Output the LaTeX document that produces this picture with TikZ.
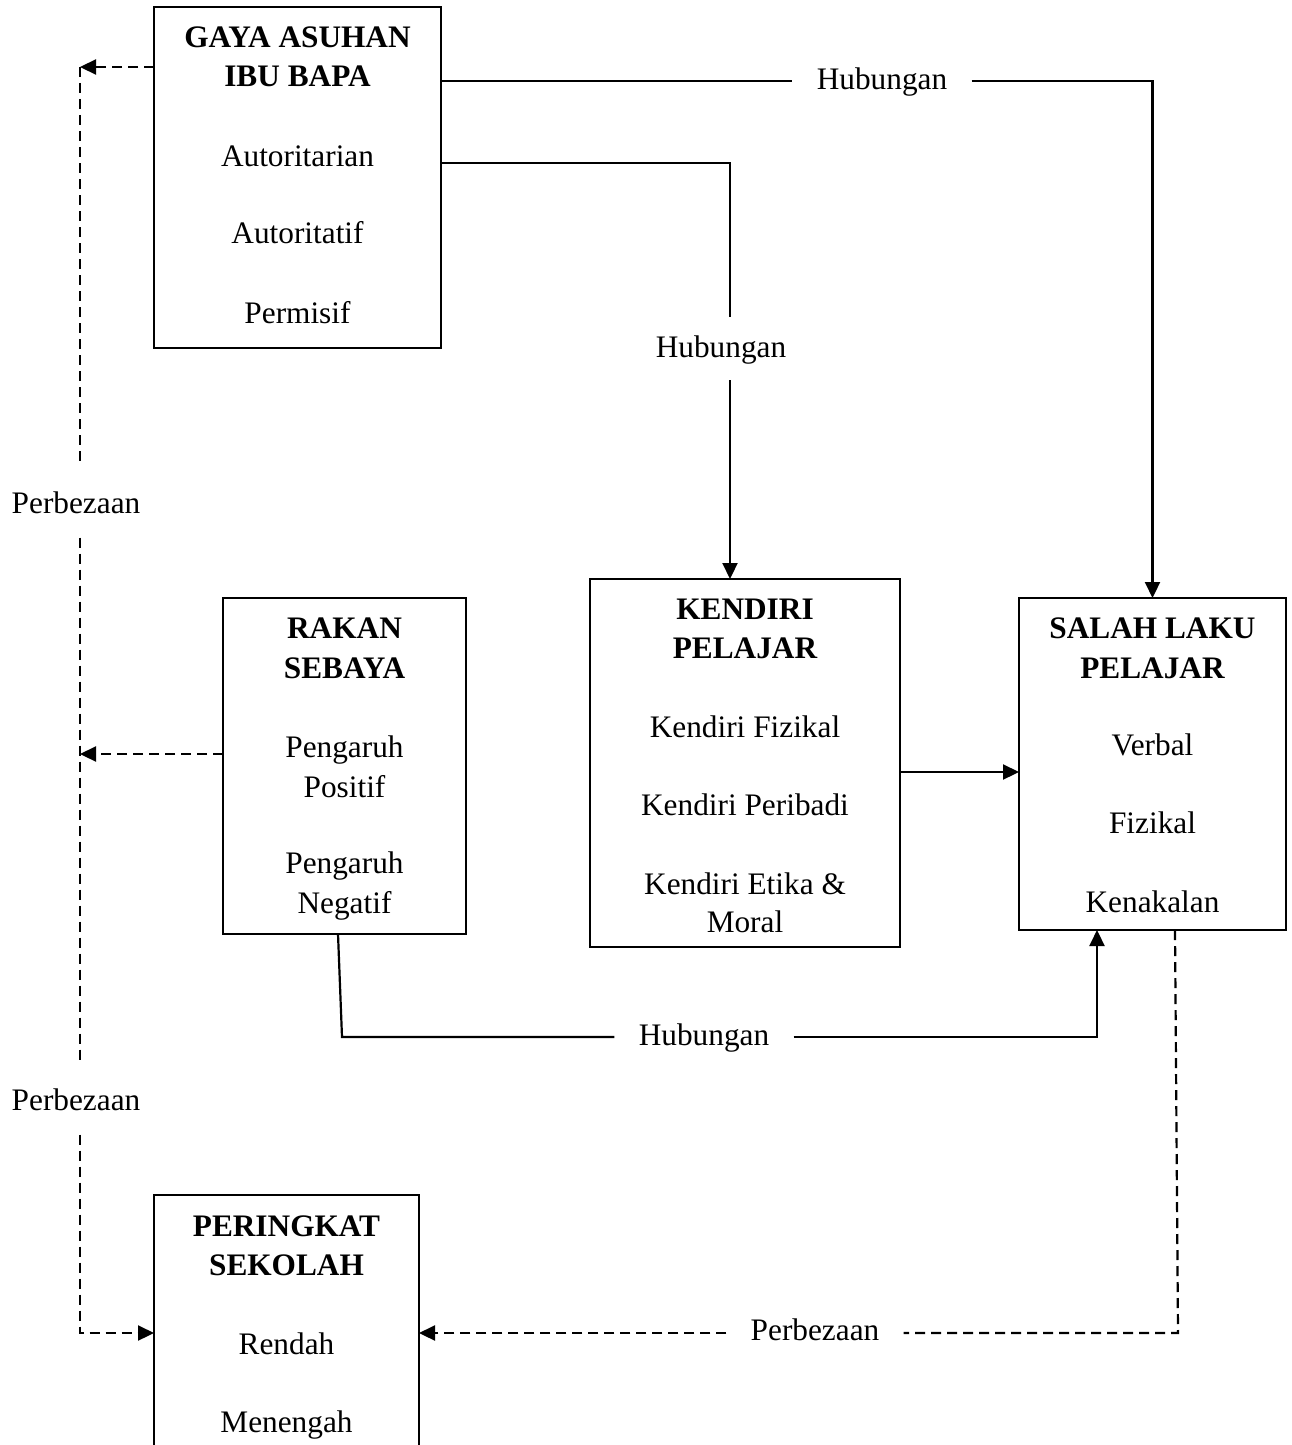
\documentclass[tikz,border=0pt]{standalone}
\usepackage{fontspec}
\setmainfont{Liberation Serif}
\usetikzlibrary{arrows.meta,calc}
\begin{document}
\begin{tikzpicture}[x=0.5pt,y=-0.5pt,
  txt/.style={font=\fontsize{15.65pt}{20pt}\selectfont, inner sep=0pt, anchor=base},
  ttl/.style={txt, font=\fontsize{15.65pt}{20pt}\selectfont\bfseries},
  box/.style={draw, line width=1.1pt, inner sep=0pt, outer sep=0pt, anchor=north west},
  conn/.style={line width=1.1pt},
  dsh/.style={conn, dash pattern=on 5pt off 3pt},
  arr/.style={-{Triangle[length=8pt,width=7.5pt]}},
  gap/.style={txt, inner xsep=12pt, inner ysep=12pt}
]
\useasboundingbox (0,0) rectangle (1291,1445);

% ---- boxes ----
\node[box, minimum width=143.5pt, minimum height=170.5pt] (gaya) at (154,7) {};
\node[box, minimum width=121.5pt, minimum height=168pt] (rakan) at (223,598) {};
\node[box, minimum width=155pt, minimum height=184pt] (kendiri) at (590,579) {};
\node[box, minimum width=133.5pt, minimum height=166pt] (salah) at (1019,598) {};
\node[box, draw=none, minimum width=132.5pt, minimum height=125pt] (peringkat) at (154,1195) {};
\draw[line width=1.1pt] (peringkat.south west) -- (peringkat.north west)
  -- (peringkat.north east) -- (peringkat.south east);

% ---- box contents ----
\node[ttl] (gaya-t1) at (297.5,48) {GAYA ASUHAN};
\node[ttl] (gaya-t2) at (297.5,87) {IBU BAPA};
\node[txt] (gaya-a) at (297.5,166) {Autoritarian};
\node[txt] (gaya-b) at (297.5,243) {Autoritatif};
\node[txt] (gaya-c) at (297.5,323) {Permisif};

\node[ttl] (rakan-t1) at (344.5,638) {RAKAN};
\node[ttl] (rakan-t2) at (344.5,678) {SEBAYA};
\node[txt] (rakan-a1) at (344.5,757) {Pengaruh};
\node[txt] (rakan-a2) at (344.5,797) {Positif};
\node[txt] (rakan-b1) at (344.5,873) {Pengaruh};
\node[txt] (rakan-b2) at (344.5,913) {Negatif};

\node[ttl] (kendiri-t1) at (745,619) {KENDIRI};
\node[ttl] (kendiri-t2) at (745,658) {PELAJAR};
\node[txt] (kendiri-a) at (745,737) {Kendiri Fizikal};
\node[txt] (kendiri-b) at (745,815) {Kendiri Peribadi};
\node[txt] (kendiri-c1) at (745,894) {Kendiri Etika \&};
\node[txt] (kendiri-c2) at (745,932) {Moral};

\node[ttl] (salah-t1) at (1152.5,638) {SALAH LAKU};
\node[ttl] (salah-t2) at (1152.5,678) {PELAJAR};
\node[txt] (salah-a) at (1152.5,755) {Verbal};
\node[txt] (salah-b) at (1152.5,833) {Fizikal};
\node[txt] (salah-c) at (1152.5,912) {Kenakalan};

\node[ttl] (peringkat-t1) at (286.5,1236) {PERINGKAT};
\node[ttl] (peringkat-t2) at (286.5,1275) {SEKOLAH};
\node[txt] (peringkat-a) at (286.5,1354) {Rendah};
\node[txt] (peringkat-b) at (286.5,1432) {Menengah};

% ---- connector labels ----
\node[gap] (h1) at (882,90) {Hubungan};
\node[gap] (h2) at (721,357) {Hubungan};
\node[gap] (h3) at (704,1045) {Hubungan};
\node[gap] (p1) at (76,513) {Perbezaan};
\node[gap] (p2) at (76,1110) {Perbezaan};
\node[gap] (p3) at (815,1340) {Perbezaan};

% ---- relationships (solid) ----
\coordinate (g1) at (441,81);
\draw[conn] (g1) -- (g1 -| h1.west);
\draw[conn, arr] (g1 -| h1.east) -| (salah.north);

\coordinate (g2) at (441,163);
\coordinate (k1) at (730,317);
\coordinate (k2) at (730,380);
\draw[conn] (g2) -| (k1);
\draw[conn, arr] (k2) -- (k2 |- kendiri.north);

\coordinate (ks) at (900,772);
\draw[conn, arr] (ks) -- (ks -| salah.west);

\coordinate (r1) at (338,934);
\coordinate (r2) at (342,1037);
\coordinate (sb) at (1097,1037);
\draw[conn] (r1) -- (r2) -- (r2 -| h3.west);
\draw[conn, arr] (h3.east |- sb) -- (sb) -- (sb |- salah.south);

% ---- differences (dashed) ----
\coordinate (ga) at (80,67);
\coordinate (pa) at (80,1333);
\coordinate (ra) at (223,754);
\draw[dsh, arr] (gaya.west |- ga) -- (ga);
\draw[dsh] (ga) -- (ga |- p1.north);
\draw[dsh] (ga |- p1.south) -- (ga |- p2.north);
\draw[dsh, arr] (ga |- p2.south) -- (pa) -- (pa -| peringkat.west);
\draw[dsh, arr] (ra) -- (ra -| ga);

\coordinate (sa) at (1175,930);
\coordinate (sc) at (1178,1333);
\draw[dsh] (sa) -- (sc) -- (sc -| p3.east);
\draw[dsh, arr] (p3.west |- sc) -- (sc -| peringkat.east);
\end{tikzpicture}
\end{document}
